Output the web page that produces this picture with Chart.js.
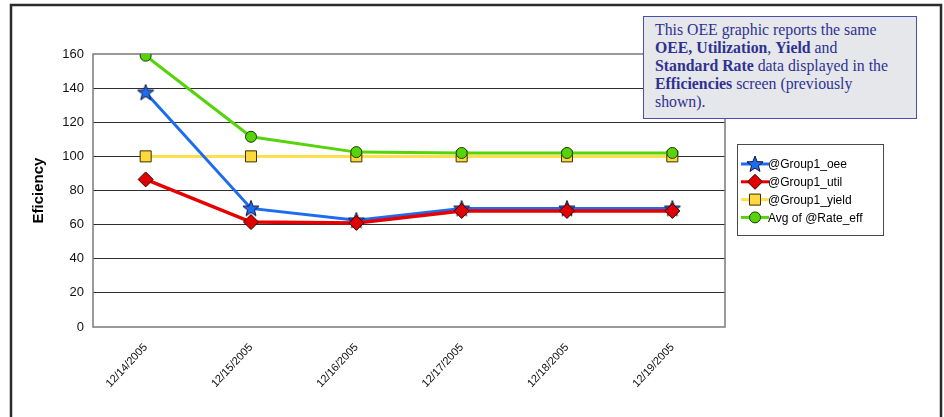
<!DOCTYPE html>
<html>
<head>
<meta charset="utf-8">
<title>OEE Efficiency</title>
<script src="https://cdn.jsdelivr.net/npm/chart.js@4.4.1/dist/chart.umd.min.js"></script>
<style>
  html, body { margin: 0; padding: 0; background: #fff; }
  #wrap { position: relative; width: 944px; height: 417px; overflow: hidden; }
  #note {
    position: absolute;
    left: 643px;
    top: 16px;
    width: 274px;
    height: 103px;
    box-sizing: border-box;
    border: 1.5px solid #4a4fae;
    background: #e6e7eb;
    color: #2e3192;
    font-family: 'Liberation Serif', 'Times New Roman', serif;
    font-size: 15.8px;
    line-height: 17.9px;
    padding: 4px 0 0 11px;
    white-space: nowrap;
  }
</style>
</head>
<body>
<div id="wrap">
  <canvas id="myChart" width="944" height="417"></canvas>
  <div id="note">This OEE graphic reports the same<br><b>OEE, Utilization</b>, <b>Yield</b> and<br><b>Standard Rate</b> data displayed in the<br><b>Efficiencies</b> screen (previously<br>shown).</div>
</div>
<script>
'use strict';

// ----------------- chart data -----------------
var dates = ['12/14/2005', '12/15/2005', '12/16/2005', '12/17/2005', '12/18/2005', '12/19/2005'];
var seriesNames = ['@Group1_oee', '@Group1_util', '@Group1_yield', 'Avg of @Rate_eff'];
var oeeValues = [137.5, 69.5, 62.5, 69.5, 69.5, 69.5];
var utilValues = [86.5, 61.5, 61, 68, 68, 68];
var yieldValues = [100, 100, 100, 100, 100, 100];
var rateValues = [159, 111.5, 102.5, 102, 102, 102];
var yTicks = [0, 20, 40, 60, 80, 100, 120, 140, 160];

var sansFont = "'Liberation Sans', Arial, sans-serif";

// star marker drawn on a small canvas (filled blue with dark edge)
function makeStar() {
  var c = document.createElement('canvas');
  c.width = 20;
  c.height = 20;
  var g = c.getContext('2d');
  g.beginPath();
  for (var i = 0; i < 10; i++) {
    var r = i % 2 === 0 ? 8.5 : 3.6;
    var a = -Math.PI / 2 + i * Math.PI / 5;
    var px = 10 + Math.cos(a) * r;
    var py = 10.5 + Math.sin(a) * r;
    if (i === 0) g.moveTo(px, py);
    else g.lineTo(px, py);
  }
  g.closePath();
  g.fillStyle = '#1d6cf0';
  g.fill();
  g.strokeStyle = '#14143c';
  g.lineWidth = 1;
  g.stroke();
  return c;
}
var starImg = makeStar();

// ----------------- plugins -----------------
var framePlugin = {
  id: 'frame',
  beforeDraw: function (chart) {
    var ctx = chart.ctx;
    ctx.save();
    ctx.fillStyle = '#fff';
    ctx.fillRect(0, 0, chart.width, chart.height);
    ctx.strokeStyle = '#2b2b2b';
    ctx.lineWidth = 2.5;
    ctx.strokeRect(11, 5, 930, 430);
    ctx.restore();
  },
  beforeDatasetsDraw: function (chart) {
    var a = chart.chartArea;
    var ctx = chart.ctx;
    ctx.save();
    ctx.strokeStyle = '#7a7a7a';
    ctx.lineWidth = 1.5;
    ctx.strokeRect(a.left, a.top, a.right - a.left, a.bottom - a.top);
    ctx.restore();
  }
};

var sideLegend = {
  id: 'sideLegend',
  afterDraw: function (chart) {
    var ctx = chart.ctx;
    ctx.save();
    ctx.fillStyle = '#fff';
    ctx.fillRect(737.5, 144.5, 146, 91);
    ctx.strokeStyle = '#4a4a4a';
    ctx.lineWidth = 1;
    ctx.strokeRect(737.5, 144.5, 146, 91);
    ctx.font = '12px ' + sansFont;
    ctx.textBaseline = 'middle';
    var list = chart.data.datasets.slice().sort(function (p, q) { return p.legendPos - q.legendPos; });
    for (var i = 0; i < list.length; i++) {
      var ds = list[i];
      var y = 164 + i * 17.8;
      ctx.strokeStyle = ds.borderColor;
      ctx.lineWidth = 3;
      ctx.beginPath();
      ctx.moveTo(741, y);
      ctx.lineTo(769, y);
      ctx.stroke();
      ctx.fillStyle = ds.pointBackgroundColor;
      ctx.strokeStyle = ds.pointBorderColor;
      ctx.lineWidth = 1;
      Chart.helpers.drawPoint(ctx, { pointStyle: ds.pointStyle, radius: ds.pointRadius, rotation: 0, borderWidth: 1 }, 755, y);
      ctx.fillStyle = '#000';
      ctx.fillText(ds.label, 768, y + 1);
    }
    ctx.restore();
  }
};

// ----------------- chart -----------------
var ctx = document.getElementById('myChart').getContext('2d');
var chart = new Chart(ctx, {
  type: 'line',
  data: {
    labels: dates,
    datasets: [
      {
        label: seriesNames[0],
        legendPos: 0,
        order: 3,
        data: oeeValues,
        borderColor: '#1d6cf0',
        borderWidth: 3,
        pointStyle: starImg,
        pointRadius: 8,
        pointBackgroundColor: '#1d6cf0',
        pointBorderColor: '#14143c',
        tension: 0
      },
      {
        label: seriesNames[1],
        legendPos: 1,
        order: 2,
        data: utilValues,
        borderColor: '#e60000',
        borderWidth: 3.5,
        pointStyle: 'rectRot',
        pointRadius: 7.5,
        pointBackgroundColor: '#e00000',
        pointBorderColor: '#3a0000',
        pointBorderWidth: 1,
        tension: 0
      },
      {
        label: seriesNames[2],
        legendPos: 2,
        order: 4,
        data: yieldValues,
        borderColor: '#ffe04a',
        borderWidth: 3,
        pointStyle: 'rect',
        pointRadius: 7.8,
        pointBackgroundColor: '#ffd83d',
        pointBorderColor: '#3a3000',
        pointBorderWidth: 1,
        tension: 0
      },
      {
        label: seriesNames[3],
        legendPos: 3,
        order: 1,
        data: rateValues,
        borderColor: '#55d40c',
        borderWidth: 3,
        pointStyle: 'circle',
        pointRadius: 5.5,
        pointBackgroundColor: '#55d40c',
        pointBorderColor: '#1f3a00',
        pointBorderWidth: 1,
        tension: 0
      }
    ]
  },
  options: {
    responsive: false,
    animation: false,
    devicePixelRatio: 1,
    layout: { padding: { top: 54, right: 219, left: 0, bottom: 0 } },
    plugins: {
      legend: { display: false },
      tooltip: { enabled: false }
    },
    scales: {
      x: {
        offset: true,
        grid: { display: false },
        border: { display: false },
        ticks: {
          color: '#111',
          font: { family: sansFont, size: 11 },
          minRotation: 47,
          maxRotation: 47,
          padding: 6
        },
        afterFit: function (scale) { scale.height = 90; }
      },
      y: {
        min: 0,
        max: 160,
        afterBuildTicks: function (scale) {
          scale.ticks = yTicks.map(function (v) { return { value: v }; });
        },
        border: { display: false },
        grid: {
          drawTicks: false,
          lineWidth: 1,
          color: function (c) {
            if (c.tick && (c.tick.value === 0 || c.tick.value === 160)) return 'rgba(0,0,0,0)';
            return '#2e2e2e';
          }
        },
        ticks: {
          color: '#111',
          font: { family: sansFont, size: 13 },
          padding: 9
        },
        title: {
          display: true,
          text: 'Eficiency',
          color: '#000',
          font: { family: sansFont, size: 15, weight: 'bold' },
          padding: { top: 30, bottom: 0 }
        },
        afterFit: function (scale) { scale.width = 93; }
      }
    }
  },
  plugins: [framePlugin, sideLegend]
});
</script>
</body>
</html>
